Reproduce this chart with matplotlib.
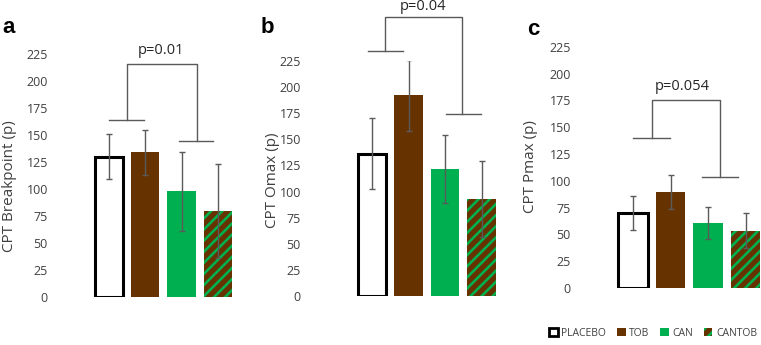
import numpy as np
import matplotlib.pyplot as plt
from matplotlib.patches import Patch

plt.rcParams['font.family'] = ['Open Sans', 'DejaVu Sans']
plt.rcParams['hatch.linewidth'] = 1.9

groups = ['PLACEBO', 'TOB', 'CAN', 'CANTOB']

breakpoint_mean = [130, 134, 98, 80]
breakpoint_sem = [21, 21, 36.5, 43.5]
omax_mean = [136, 192, 122, 93]
omax_sem = [34, 34, 32.5, 36.5]
pmax_mean = [70, 89.5, 60.5, 53.5]
pmax_sem = [16, 15.5, 14.7, 16.5]

ylabels = ['CPT Breakpoint (p)', 'CPT Omax (p)', 'CPT Pmax (p)']
letters = ['a', 'b', 'c']
pvalues = ['p=0.01', 'p=0.04', 'p=0.054']
yticks = np.arange(0, 226, 25)

BROWN = '#663300'
GREEN = '#00b050'
GREY = '#5a5a5a'

W, H = 761, 345
fig = plt.figure(figsize=(W / 100, H / 100), dpi=100)


def panel(left, zero, top, x0, step, right):
    # pixel geometry -> axes with ylim 0..225 and bars at 0..3
    ax = fig.add_axes([left / W, (H - zero) / H, (right - left) / W,
                       (zero - top) / H])
    ax.set_ylim(0, 225)
    ax.set_xlim((left - x0) / step, (right - x0) / step)
    for s in ax.spines.values():
        s.set_visible(False)
    ax.set_xticks([])
    ax.set_yticks(yticks)
    ax.tick_params(axis='y', length=0, pad=3, labelsize=9,
                   labelcolor='#404040')
    return ax


axes = [
    panel(52, 297, 54, 109, 36.3, 250),
    panel(305, 296, 61, 372, 36.5, 510),
    panel(575, 288, 46.7, 633, 37.5, 761),
]

means = [breakpoint_mean, omax_mean, pmax_mean]
sems = [breakpoint_sem, omax_sem, pmax_sem]

# bracket layout per panel: left bar (x0, x1, y), right bar (x0, x1, y),
# vertical x's, top y, text position
brackets = [
    dict(l=(0, 0.96, 164), r=(1.93, 2.87, 144), vx=(0.5, 2.42), top=216,
         txt=(1.43, 228)),
    dict(l=(-0.11, 0.85, 235), r=(2.03, 2.99, 174), vx=(0.36, 2.47), top=267,
         txt=(1.39, 277)),
    dict(l=(0, 0.99, 140), r=(1.83, 2.8, 103.5), vx=(0.51, 2.32), top=175,
         txt=(1.31, 188)),
]

ylab_px = [(10, 186), (272, 180), (530, 167)]
letter_px = [(2, 33), (261, 33), (527, 35)]

for i, ax in enumerate(axes):
    x = np.arange(4)
    m = means[i]
    ax.bar(0, m[0], 0.78, color='white', edgecolor='black', linewidth=2.2)
    ax.bar(1, m[1], 0.78, color=BROWN, linewidth=0)
    ax.bar(2, m[2], 0.78, color=GREEN, linewidth=0)
    ax.bar(3, m[3], 0.78, color=BROWN, edgecolor=GREEN, hatch='///',
           linewidth=0)
    ax.errorbar(x, m, yerr=sems[i], fmt='none', ecolor=GREY, elinewidth=1,
                capsize=2.4, capthick=1, zorder=3)

    b = brackets[i]
    kw = dict(color=GREY, lw=1, clip_on=False)
    ax.plot([b['l'][0], b['l'][1]], [b['l'][2]] * 2, **kw)
    ax.plot([b['r'][0], b['r'][1]], [b['r'][2]] * 2, **kw)
    ax.plot([b['vx'][0], b['vx'][0], b['vx'][1], b['vx'][1]],
            [b['l'][2], b['top'], b['top'], b['r'][2]], **kw)
    ax.text(b['txt'][0], b['txt'][1], pvalues[i], ha='center', va='center',
            fontsize=10.5, color='#262626', clip_on=False)

    lx, ly = ylab_px[i]
    fig.text(lx / W, (H - ly) / H, ylabels[i], rotation=90, ha='center',
             va='center', fontsize=11, color='#404040')
    px, py = letter_px[i]
    fig.text(px / W, (H - py) / H, letters[i], ha='left', va='baseline',
             fontsize=16, fontweight='bold', family='Liberation Sans')

handles = [
    Patch(facecolor='white', edgecolor='black', linewidth=2),
    Patch(facecolor=BROWN, linewidth=0),
    Patch(facecolor=GREEN, linewidth=0),
    Patch(facecolor=BROWN, edgecolor=GREEN, hatch='///', linewidth=0),
]
fig.legend(handles, groups, loc='center', bbox_to_anchor=(653 / W, 12 / H),
           ncol=4, frameon=False, fontsize=7.5, handlelength=0.85,
           handleheight=0.85, handletextpad=0.35, columnspacing=1.0,
           labelcolor='#404040')

fig.savefig('out.png', dpi=100)
